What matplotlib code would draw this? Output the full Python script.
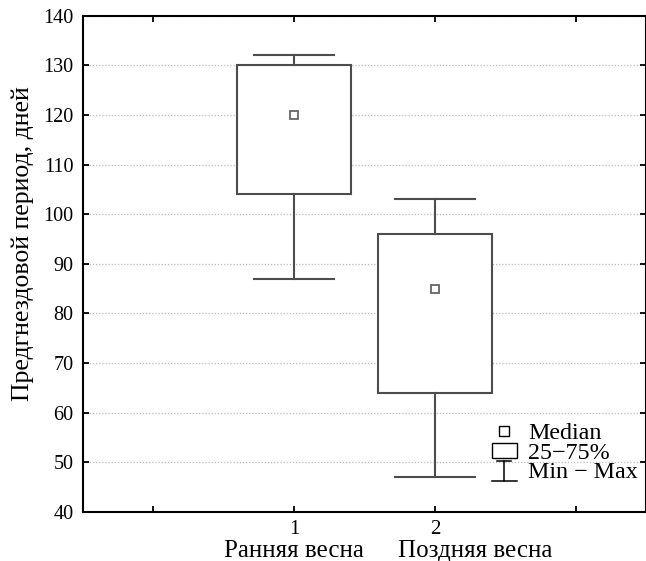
import matplotlib
matplotlib.use("Agg")
import matplotlib.pyplot as plt
from matplotlib.lines import Line2D
from matplotlib.patches import Rectangle
from matplotlib.legend_handler import HandlerBase

# Summary statistics per group
groups = ["Ранняя весна", "Поздняя весна"]
group_ids = ["1", "2"]
minimum = [87, 47]
q25 = [104, 64]
median = [120, 85]
q75 = [130, 96]
maximum = [132, 103]

y_ticks = list(range(40, 141, 10))

plt.rcParams["font.family"] = ["Liberation Serif", "DejaVu Serif"]

edge = "#4d4d4d"

fig = plt.figure(figsize=(6.46, 5.61), dpi=100)
ax = fig.add_axes([0.1285, 0.0873, 0.8715, 0.8848])

positions = [1, 2]
stats = []
for i in range(len(groups)):
    stats.append(dict(med=median[i], q1=q25[i], q3=q75[i],
                      whislo=minimum[i], whishi=maximum[i], label=group_ids[i]))

ax.bxp(stats, positions=positions, widths=0.81, capwidths=0.57,
       showfliers=False, patch_artist=True,
       boxprops=dict(facecolor="white", edgecolor=edge, linewidth=1.5),
       whiskerprops=dict(color=edge, linewidth=1.5),
       capprops=dict(color=edge, linewidth=1.5),
       medianprops=dict(visible=False), zorder=3)
ax.plot(positions, median, linestyle="none", marker="s", markersize=5.5,
        markerfacecolor="white", markeredgecolor="#666666",
        markeredgewidth=1.3, zorder=4)

ax.set_xlim(-0.5, 3.5)
ax.set_ylim(40, 140)
ax.set_yticks(y_ticks)
ax.set_xticks([0, 1, 2, 3])
ax.set_xticklabels(["", group_ids[0], group_ids[1], ""])
ax.tick_params(direction="in", length=4, width=1.3, top=True, right=True,
               labelsize=14.5, colors="black", pad=7)
ax.tick_params(axis="x", labelsize=15, pad=6)

# Group names under the numeric tick labels (horizontal shift in points)
name_shift = [0, 29]
for pos, name, dx in zip(positions, groups, name_shift):
    ax.annotate(name, xy=(pos, 0), xycoords=("data", "axes fraction"),
                xytext=(dx, -20), textcoords="offset points",
                ha="center", va="top", fontsize=18)

ax.yaxis.grid(True, linestyle=(0, (1, 1.5)), color="#bbbbbb", linewidth=0.9, zorder=0)
ax.set_axisbelow(True)
for sp in ax.spines.values():
    sp.set_linewidth(1.5)
    sp.set_color("black")

ax.set_ylabel("Предгнездовой период, дней", fontsize=18.5)
ax.yaxis.set_label_coords(-0.087, 0.54)


class WhiskerHandler(HandlerBase):
    def create_artists(self, legend, orig_handle, xdescent, ydescent,
                       width, height, fontsize, trans):
        x0, x1 = -xdescent, -xdescent + width
        y0, y1 = -ydescent - 2, -ydescent + height
        xm = (x0 + x1) / 2
        half = width * 0.28
        lw = 1.1
        return [
            Line2D([x0, x1], [y0, y0], color="black", linewidth=lw, transform=trans),
            Line2D([xm - half, xm + half], [y1, y1], color="black", linewidth=lw,
                   transform=trans),
            Line2D([xm, xm], [y0, y1], color="black", linewidth=lw, transform=trans),
        ]


class BoxHandler(HandlerBase):
    def create_artists(self, legend, orig_handle, xdescent, ydescent,
                       width, height, fontsize, trans):
        r = Rectangle((-xdescent, -ydescent + 0.5), width, height - 1.5,
                      facecolor="white", edgecolor="black", linewidth=1.0,
                      transform=trans)
        return [r]


median_handle = Line2D([], [], linestyle="none", marker="s", markersize=6.5,
                       markerfacecolor="white", markeredgecolor="black",
                       markeredgewidth=1.0)
box_handle = Rectangle((0, 0), 1, 1)
whisker_handle = Line2D([], [])

ax.legend([median_handle, box_handle, whisker_handle],
          ["Median", "25−75%", "Min − Max"],
          handler_map={Rectangle: BoxHandler(), whisker_handle: WhiskerHandler()},
          loc="lower right", bbox_to_anchor=(0.985, 0.058),
          frameon=False, fontsize=17.3, handlelength=1.05, handletextpad=0.45,
          labelspacing=-0.1, borderaxespad=0.0, borderpad=0.0)

fig.savefig("out.png", dpi=100)
